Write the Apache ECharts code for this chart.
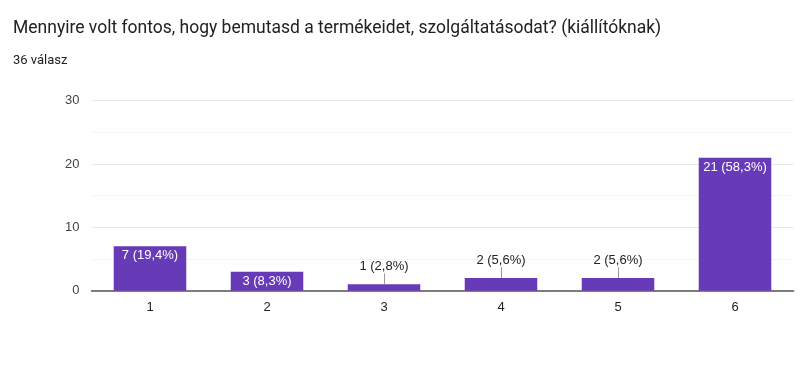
<!DOCTYPE html>
<html><head><meta charset="utf-8">
<script src="https://cdn.jsdelivr.net/npm/echarts@6/dist/echarts.min.js"></script>
<style>html,body{margin:0;padding:0;background:#fff}#c{width:800px;height:365px}</style>
</head><body><div id="c"></div>
<script>
const title = 'Mennyire volt fontos, hogy bemutasd a termékeidet, szolgáltatásodat? (kiállítóknak)';
const subtitle = '36 válasz';
const categories = ['1', '2', '3', '4', '5', '6'];
const values = [7, 3, 1, 2, 2, 21];
const percents = ['19,4%', '8,3%', '2,8%', '5,6%', '5,6%', '58,3%'];
const insideLabel = [true, true, false, false, false, true];
const yTicks = [0, 10, 20, 30];

const font = 'Arial, "Liberation Sans", sans-serif';
const chart = echarts.init(document.getElementById('c'));
const data = values.map((v, i) => {
  const inside = insideLabel[i];
  return {
    value: v,
    label: inside ? {
      show: true, position: 'insideTop', distance: 3, color: '#fff',
      fontSize: 13, fontFamily: font
    } : {
      show: true, position: 'top', distance: 11, color: '#222',
      fontSize: 13, fontFamily: font
    }
  };
});
const lineData = values.map((v, i) => insideLabel[i] ? null : [i, v]).filter(d => d);
chart.setOption({
  animation: false,
  title: [{
    text: title, left: 8, top: 15,
    textStyle: { fontFamily: 'Roboto, sans-serif', fontWeight: 'normal', fontSize: 17.5, color: '#202124' }
  }, {
    text: subtitle, left: 8, top: 49,
    textStyle: { fontFamily: 'Roboto, sans-serif', fontWeight: 'normal', fontSize: 13, color: '#202124' }
  }],
  grid: { left: 91.5, right: 6.5, top: 100.7, bottom: 74.3, containLabel: false },
  xAxis: {
    type: 'category', data: categories,
    axisLine: { lineStyle: { color: '#555', width: 1.5 } },
    axisTick: { show: false },
    axisLabel: { color: '#222', fontSize: 13, fontFamily: font, margin: 10 }
  },
  yAxis: {
    type: 'value', min: yTicks[0], max: yTicks[yTicks.length - 1], interval: 10,
    axisLine: { show: false }, axisTick: { show: false },
    axisLabel: { color: '#444', fontSize: 13, fontFamily: font, margin: 12 },
    splitLine: { lineStyle: { color: '#e8e8e8', width: 1 } },
    minorTick: { show: false, splitNumber: 2 },
    minorSplitLine: { show: true, lineStyle: { color: '#f4f4f4', width: 1 } }
  },
  series: [{
    type: 'bar', data: data, barWidth: '62%',
    itemStyle: { color: '#673ab7' },
    label: {
      formatter: p => p.value + ' (' + percents[p.dataIndex] + ')'
    }
  }, {
    type: 'custom', data: lineData, silent: true, z: 3,
    renderItem: (params, api) => {
      const p = api.coord([api.value(0), api.value(1)]);
      return {
        type: 'line',
        shape: { x1: Math.round(p[0]) + 0.5, y1: p[1], x2: Math.round(p[0]) + 0.5, y2: p[1] - 11 },
        style: { stroke: '#999', lineWidth: 1 }
      };
    }
  }]
});
</script></body></html>
